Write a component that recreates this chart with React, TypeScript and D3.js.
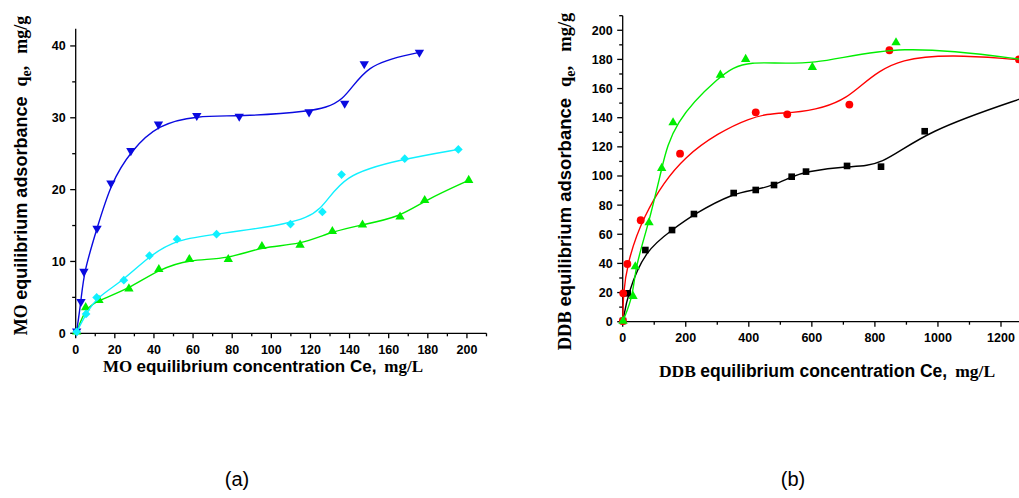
import React from 'react';
import * as d3 from 'd3';

// ---------- Panel (a): MO ----------
const moBlueCe = [0.5, 2.7, 4.2, 10.9, 18.0, 28.2, 42.3, 61.9, 83.6, 119.3, 137.5, 147.5, 175.7];
const moBlueQe = [0.3, 4.4, 8.6, 14.6, 20.9, 25.4, 29.1, 30.3, 30.2, 30.8, 32.0, 37.5, 39.1];
const moCyanCe = [0.5, 5.3, 10.7, 24.6, 37.7, 51.8, 72.0, 109.8, 126.1, 135.9, 168.2, 195.6];
const moCyanQe = [0.2, 2.7, 5.0, 7.4, 10.8, 13.1, 13.8, 15.2, 16.9, 22.1, 24.3, 25.6];
const moGreenCe = [0.5, 5.1, 11.9, 27.2, 42.5, 58.1, 78.0, 95.2, 114.7, 131.2, 146.6, 165.8, 178.4, 200.9];
const moGreenQe = [0.2, 3.6, 4.6, 6.2, 8.9, 10.3, 10.3, 12.1, 12.3, 14.2, 15.1, 16.2, 18.5, 21.3];
const aXMajor = [0, 20, 40, 60, 80, 100, 120, 140, 160, 180, 200];
const aYMajor = [0, 10, 20, 30, 40];

// ---------- Panel (b): DDB ----------
const ddbBlackCe = [1, 15.9, 71.9, 156.5, 226, 352, 422, 480, 536, 581.5, 711.6, 819.4, 958, 1290];
const ddbBlackQe = [0.5, 19.5, 49.2, 62.9, 73.9, 88.3, 90.4, 93.8, 99.5, 103, 106.9, 106.4, 130.7, 155];
const ddbRedCe = [0.5, 1.5, 14.8, 57.1, 181.9, 422, 522, 719, 846, 1257, 1350];
const ddbRedQe = [0.5, 19.5, 39.6, 69.6, 115.3, 143.7, 142.3, 149, 186.3, 180, 178];
const ddbGreenCe = [1, 32.8, 40, 83.5, 123.7, 159.7, 309.8, 390, 601.6, 867, 1300];
const ddbGreenQe = [0.5, 17.5, 37.8, 68, 105.3, 136.6, 169.3, 180.1, 174.6, 191.5, 179];
const bXMajor = [0, 200, 400, 600, 800, 1000, 1200];
const bYMajor = [0, 20, 40, 60, 80, 100, 120, 140, 160, 180, 200];

const SANS = "'Liberation Sans', Arial, sans-serif";
const SERIF = "'Liberation Serif', 'Times New Roman', serif";

const BLUE = '#0a0ae0';
const CYAN = '#10f0ff';
const GREEN = '#00ee00';
const RED = '#ff0000';
const BLACK = '#000000';

type Pt = [number, number];
const zip = (xs: number[], ys: number[]): Pt[] => xs.map((x, i) => [x, ys[i]]);

function Axes({ x, y, xMajor, xMinorStep, yMajor, yMinorStep, fs }: any) {
  const [x0, x1] = x.range();
  const [y0, y1] = y.range();
  const xd = x.domain();
  const yd = y.domain();
  const xMinor = d3.range(xd[0], xd[1] + 1e-6, xMinorStep).filter((v: number) => !xMajor.includes(v));
  const yMinor = d3.range(yd[0], yd[1] + 1e-6, yMinorStep).filter((v: number) => !yMajor.includes(v));
  return (
    <g stroke="#000" strokeWidth={1.3} fill="none">
      <line x1={x0} x2={x1} y1={y0} y2={y0} />
      <line x1={x0} x2={x0} y1={y0 + 0.6} y2={y1} />
      {xMajor.map((v: number) => (
        <g key={'xm' + v}>
          <line x1={x(v)} x2={x(v)} y1={y0} y2={y0 + 5} />
          <text x={x(v)} y={y0 + 20.5} textAnchor="middle" stroke="none" fill="#000"
            fontFamily={SANS} fontWeight="bold" fontSize={fs}>{v}</text>
        </g>
      ))}
      {xMinor.map((v: number) => (
        <line key={'xn' + v} x1={x(v)} x2={x(v)} y1={y0} y2={y0 + 3} />
      ))}
      {yMajor.map((v: number) => (
        <g key={'ym' + v}>
          <line x1={x0} x2={x0 - 5.5} y1={y(v)} y2={y(v)} />
          <text x={x0 - 10} y={y(v)} dy="0.36em" textAnchor="end" stroke="none" fill="#000"
            fontFamily={SANS} fontWeight="bold" fontSize={fs}>{v}</text>
        </g>
      ))}
      {yMinor.map((v: number) => (
        <line key={'yn' + v} x1={x0} x2={x0 - 3.5} y1={y(v)} y2={y(v)} />
      ))}
    </g>
  );
}

function Series({ pts, x, y, color, symbol, size, rotate }: any) {
  const line = d3.line<Pt>().x((d) => x(d[0])).y((d) => y(d[1])).curve(d3.curveBasis);
  const sym = d3.symbol().type(symbol).size(size)();
  return (
    <g>
      <path d={line(pts) || ''} fill="none" stroke={color} strokeWidth={1.4} />
      {pts.map((d: Pt, i: number) => (
        <path key={i} d={sym || ''} fill={color}
          transform={`translate(${x(d[0])},${y(d[1])}) rotate(${rotate || 0})`} />
      ))}
    </g>
  );
}

export default function App() {
  // Panel (a) scales
  const ax = d3.scaleLinear().domain([0, 210]).range([75.7, 486.5]);
  const ay = d3.scaleLinear().domain([0, 42.4]).range([333.3, 28.7]);
  // Panel (b) scales
  const bx = d3.scaleLinear().domain([0, 1300]).range([622.7, 622.7 + 1300 * (378.3 / 1200)]);
  const by = d3.scaleLinear().domain([0, 210]).range([321.7, 15.7]);

  return (
    <svg width={1019} height={498} style={{ position: 'absolute', left: 0, top: 0, background: '#fff' }}>
      <rect width={1019} height={498} fill="#fff" />
      {/* Panel (a) */}
      <Axes x={ax} y={ay} xMajor={aXMajor} xMinorStep={10} yMajor={aYMajor} yMinorStep={5} fs={12.5} />
      <Series pts={zip(moGreenCe, moGreenQe)} x={ax} y={ay} color={GREEN} symbol={d3.symbolTriangle} size={38} />
      <Series pts={zip(moBlueCe, moBlueQe)} x={ax} y={ay} color={BLUE} symbol={d3.symbolTriangle} size={38} rotate={180} />
      <Series pts={zip(moCyanCe, moCyanQe)} x={ax} y={ay} color={CYAN} symbol={d3.symbolSquare} size={38} rotate={45} />

      <text transform="translate(27,175.5) rotate(-90)" textAnchor="middle" fontWeight="bold" fontSize={18} fill="#000">
        <tspan fontFamily={SERIF}>{'MO '}</tspan>
        <tspan fontFamily={SANS}>equilibrium adsorbance</tspan>
        <tspan fontFamily={SERIF} dx={10}>q</tspan>
        <tspan fontFamily={SERIF} fontSize={14} dy={4}>e</tspan>
        <tspan fontFamily={SERIF} dy={-4}>,</tspan>
        <tspan fontFamily={SERIF} dx={12}>mg/g</tspan>
      </text>
      <text x={263} y={372} textAnchor="middle" fontWeight="bold" fontSize={17} fill="#000">
        <tspan fontFamily={SERIF}>{'MO '}</tspan>
        <tspan fontFamily={SANS}>equilibrium concentration Ce,</tspan>
        <tspan fontFamily={SERIF} dx={8}>mg/L</tspan>
      </text>

      {/* Panel (b) */}
      <Axes x={bx} y={by} xMajor={bXMajor} xMinorStep={100} yMajor={bYMajor} yMinorStep={10} fs={12.5} />
      <Series pts={zip(ddbBlackCe, ddbBlackQe)} x={bx} y={by} color={BLACK} symbol={d3.symbolSquare} size={44} />
      <Series pts={zip(ddbRedCe, ddbRedQe)} x={bx} y={by} color={RED} symbol={d3.symbolCircle} size={48} />
      <Series pts={zip(ddbGreenCe, ddbGreenQe)} x={bx} y={by} color={GREEN} symbol={d3.symbolTriangle} size={38} />

      <text transform="translate(571,181.5) rotate(-90)" textAnchor="middle" fontWeight="bold" fontSize={18.5} fill="#000">
        <tspan fontFamily={SERIF}>{'DDB '}</tspan>
        <tspan fontFamily={SANS}>equilibrium adsorbance</tspan>
        <tspan fontFamily={SERIF} dx={11}>q</tspan>
        <tspan fontFamily={SERIF} fontSize={14} dy={4}>e</tspan>
        <tspan fontFamily={SERIF} dy={-4}>,</tspan>
        <tspan fontFamily={SERIF} dx={14}>mg/g</tspan>
      </text>
      <text x={827} y={377} textAnchor="middle" fontWeight="bold" fontSize={17.5} fill="#000">
        <tspan fontFamily={SERIF}>{'DDB '}</tspan>
        <tspan fontFamily={SANS}>equilibrium concentration Ce,</tspan>
        <tspan fontFamily={SERIF} dx={8}>mg/L</tspan>
      </text>

      <text x={237} y={486} textAnchor="middle" fontFamily={SANS} fontSize={20} fill="#000">(a)</text>
      <text x={793} y={486} textAnchor="middle" fontFamily={SANS} fontSize={20} fill="#000">(b)</text>
    </svg>
  );
}
